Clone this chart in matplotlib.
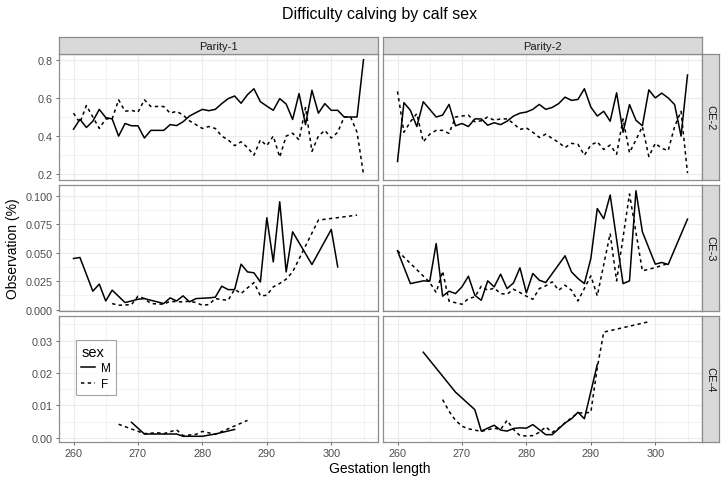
"""
Difficulty calving by calf sex: faceted line chart (CE grade x parity),
drawn in the style of ggplot2 theme_bw with free y scales per row.
Output: out.png
"""
import matplotlib
matplotlib.use("Agg")
import matplotlib.pyplot as plt
from matplotlib.lines import Line2D

plt.rcParams["font.family"] = ["Liberation Sans", "DejaVu Sans"]

# ---- data ----
DAYS_FULL = [260, 261, 262, 263, 264, 265, 266, 267, 268, 269, 270, 271, 272,
             273, 274, 275, 276, 277, 278, 279, 280, 281, 282, 283, 284, 285,
             286, 287, 288, 289, 290, 291, 292, 293, 294, 295, 296, 297, 298,
             299, 300, 301, 302, 303, 304, 305]

# CE-2, Parity-1
p1_ce2_m = [0.436, 0.488, 0.445, 0.478, 0.54, 0.497, 0.49, 0.40, 0.466, 0.454,
            0.454, 0.39, 0.43, 0.43, 0.43, 0.46, 0.455, 0.475, 0.505, 0.523,
            0.54, 0.533, 0.54, 0.57, 0.596, 0.61, 0.572, 0.617, 0.648, 0.58,
            0.557, 0.535, 0.596, 0.568, 0.487, 0.623, 0.46, 0.64, 0.52, 0.57,
            0.535, 0.535, 0.50, 0.50, 0.50, 0.80]
p1_ce2_f = [0.52, 0.47, 0.56, 0.50, 0.44, 0.49, 0.49, 0.59, 0.53, 0.535,
            0.525, 0.59, 0.555, 0.555, 0.555, 0.52, 0.53, 0.51, 0.48, 0.46,
            0.44, 0.45, 0.44, 0.40, 0.38, 0.35, 0.37, 0.34, 0.30, 0.38,
            0.35, 0.40, 0.29, 0.40, 0.415, 0.38, 0.55, 0.32, 0.40, 0.43,
            0.39, 0.42, 0.50, 0.50, 0.42, 0.20]
# CE-2, Parity-2
p2_ce2_m = [0.267, 0.575, 0.535, 0.45, 0.58, 0.54, 0.50, 0.51, 0.566, 0.454,
            0.466, 0.45, 0.49, 0.49, 0.457, 0.47, 0.46, 0.478, 0.505, 0.52,
            0.526, 0.54, 0.566, 0.54, 0.55, 0.57, 0.604, 0.587, 0.592, 0.648,
            0.552, 0.505, 0.53, 0.478, 0.627, 0.42, 0.565, 0.483, 0.454, 0.642,
            0.60, 0.625, 0.60, 0.565, 0.40, 0.72]
p2_ce2_f = [0.634, 0.42, 0.475, 0.518, 0.37, 0.41, 0.43, 0.43, 0.414, 0.50,
            0.505, 0.51, 0.475, 0.48, 0.50, 0.483, 0.49, 0.49, 0.466, 0.435,
            0.443, 0.42, 0.393, 0.41, 0.388, 0.367, 0.34, 0.362, 0.357, 0.30,
            0.353, 0.37, 0.33, 0.353, 0.305, 0.49, 0.313, 0.38, 0.45, 0.293,
            0.362, 0.336, 0.324, 0.45, 0.53, 0.206]

# CE-3, Parity-1
p1_ce3_m_days = [260, 261, 263, 264, 265, 266, 268, 269, 270, 271, 272, 273,
                 274, 275, 276, 277, 278, 279, 280, 281, 282, 283, 284, 285,
                 286, 287, 288, 289, 290, 291, 292, 293, 294, 297, 300, 301]
p1_ce3_m = [0.045, 0.0459, 0.0162, 0.0224, 0.0076, 0.0171, 0.0062, 0.0076,
            0.0091, 0.0097, 0.0082, 0.0068, 0.0053, 0.0103, 0.0076, 0.0121,
            0.0068, 0.0097, 0.010, 0.0103, 0.0109, 0.0206, 0.0176, 0.0176,
            0.040, 0.0332, 0.0324, 0.0244, 0.0809, 0.042, 0.095, 0.0332,
            0.0685, 0.0397, 0.0706, 0.0376]
p1_ce3_f_days = [266, 267, 269, 270, 271, 272, 274, 275, 276, 277, 278, 279,
                 280, 281, 282, 283, 284, 285, 286, 287, 288, 289, 290, 291,
                 292, 293, 294, 298, 304]
p1_ce3_f = [0.0053, 0.0038, 0.0044, 0.0118, 0.0097, 0.0053, 0.0047, 0.0074,
            0.0068, 0.0068, 0.0074, 0.0062, 0.0038, 0.0044, 0.0097, 0.0088,
            0.0082, 0.0179, 0.0141, 0.0191, 0.0238, 0.0121, 0.0126, 0.020,
            0.023, 0.0268, 0.0332, 0.0788, 0.0832]
# CE-3, Parity-2
p2_ce3_m_days = [260, 262, 264, 265, 266, 267, 268, 269, 270, 271, 272, 273,
                 274, 275, 276, 277, 278, 279, 280, 281, 282, 283, 286, 287,
                 288, 289, 290, 291, 292, 293, 295, 296, 297, 298, 300, 301,
                 302, 305]
p2_ce3_m = [0.0518, 0.0229, 0.0253, 0.025, 0.0582, 0.0118, 0.0162, 0.0141,
            0.020, 0.0294, 0.0126, 0.0082, 0.0253, 0.020, 0.0312, 0.0185,
            0.0235, 0.0368, 0.0147, 0.0318, 0.0259, 0.0238, 0.0474, 0.0332,
            0.0274, 0.0229, 0.045, 0.089, 0.080, 0.1009, 0.0229, 0.0253,
            0.1047, 0.0685, 0.040, 0.0415, 0.0397, 0.0797]
p2_ce3_f_days = [260, 265, 266, 267, 268, 270, 271, 272, 273, 274, 275, 276,
                 277, 278, 279, 280, 281, 282, 283, 284, 285, 286, 287, 288,
                 290, 291, 293, 294, 296, 298, 300, 302]
p2_ce3_f = [0.0518, 0.024, 0.015, 0.0338, 0.0074, 0.0047, 0.0097, 0.0112,
            0.0206, 0.017, 0.019, 0.0141, 0.0135, 0.0179, 0.015, 0.0118,
            0.0091, 0.0185, 0.0209, 0.0244, 0.017, 0.0215, 0.017, 0.0076,
            0.0297, 0.0121, 0.067, 0.0253, 0.1018, 0.0341, 0.037, 0.0406]

# CE-4, Parity-1
p1_ce4_m_days = [269, 271, 276, 277, 280, 282, 285]
p1_ce4_m = [0.0048, 0.0012, 0.0012, 0.0005, 0.0005, 0.0012, 0.0026]
p1_ce4_f_days = [267, 271, 273, 274, 276, 277, 279, 280, 282, 287]
p1_ce4_f = [0.0042, 0.0013, 0.0016, 0.0013, 0.0025, 0.0007, 0.0011, 0.002,
            0.0011, 0.0054]
# CE-4, Parity-2
p2_ce4_m_days = [264, 269, 272, 273, 275, 276, 277, 278, 279, 280, 281, 283,
                 284, 286, 287, 288, 289, 291]
p2_ce4_m = [0.0264, 0.0141, 0.0087, 0.0021, 0.0039, 0.0024, 0.0021, 0.0029,
            0.0031, 0.003, 0.0041, 0.001, 0.001, 0.0046, 0.0059, 0.0079,
            0.0059, 0.0226]
p2_ce4_f_days = [267, 268, 269, 270, 271, 272, 273, 275, 276, 277, 278, 279,
                 280, 281, 282, 283, 284, 285, 286, 287, 288, 289, 290, 291,
                 292, 299]
p2_ce4_f = [0.0118, 0.0082, 0.0054, 0.0036, 0.0028, 0.0024, 0.002, 0.003,
            0.0026, 0.0054, 0.0026, 0.0007, 0.0006, 0.0007, 0.0017, 0.0034,
            0.0017, 0.003, 0.0046, 0.0062, 0.0077, 0.0077, 0.0079, 0.0216,
            0.0326, 0.0358]

COL_LABELS = ["Parity-1", "Parity-2"]
ROW_LABELS = ["CE-2", "CE-3", "CE-4"]
ROW_TICKS = [[0.2, 0.4, 0.6, 0.8],
             [0.000, 0.025, 0.050, 0.075, 0.100],
             [0.00, 0.01, 0.02, 0.03]]
ROW_FMT = ["{:.1f}", "{:.3f}", "{:.2f}"]
X_TICKS = [260, 270, 280, 290, 300]
SEX_LABELS = ["M", "F"]

# facets[row][col] = ((m_days, m_vals), (f_days, f_vals))
facets = [
    [((DAYS_FULL, p1_ce2_m), (DAYS_FULL, p1_ce2_f)),
     ((DAYS_FULL, p2_ce2_m), (DAYS_FULL, p2_ce2_f))],
    [((p1_ce3_m_days, p1_ce3_m), (p1_ce3_f_days, p1_ce3_f)),
     ((p2_ce3_m_days, p2_ce3_m), (p2_ce3_f_days, p2_ce3_f))],
    [((p1_ce4_m_days, p1_ce4_m), (p1_ce4_f_days, p1_ce4_f)),
     ((p2_ce4_m_days, p2_ce4_m), (p2_ce4_f_days, p2_ce4_f))],
]

W, H = 726, 485
GRID = "#ebebeb"
BORDER = "#8c8c8c"
TICKCOL = "#4d4d4d"
DASH = (0, (2.2, 2.2))

fig = plt.figure(figsize=(W / 100, H / 100), dpi=100)


def px(x0, y0, x1, y1):
    # pixel box (top-left origin) -> figure fraction rect
    return [x0 / W, 1 - y1 / H, (x1 - x0) / W, (y1 - y0) / H]


def expand(vals):
    lo, hi = min(vals), max(vals)
    pad = (hi - lo) * 0.05
    return lo - pad, hi + pad


all_x = [d for row in facets for cell in row for s in cell for d in s[0]]
xlim = expand(all_x)

col_x = [(59, 378), (383, 702)]
row_y = [(55, 181), (186, 312), (317, 443)]

axes = {}
for r, (y0, y1) in enumerate(row_y):
    yvals = [v for cell in facets[r] for s in cell for v in s[1]]
    ylim = expand(yvals)
    ticks = ROW_TICKS[r]
    step = ticks[1] - ticks[0]
    minor_y = [ticks[0] - step / 2] + \
              [(a + b) / 2 for a, b in zip(ticks[:-1], ticks[1:])] + \
              [ticks[-1] + step / 2]
    for c, (x0, x1) in enumerate(col_x):
        ax = fig.add_axes(px(x0, y0, x1, y1))
        axes[(r, c)] = ax
        ax.set_xlim(*xlim)
        ax.set_ylim(*ylim)
        # grid
        for t in X_TICKS:
            ax.axvline(t, color=GRID, lw=0.8, zorder=0)
        for t in [255, 265, 275, 285, 295, 305]:
            ax.axvline(t, color=GRID, lw=0.45, zorder=0)
        for t in ticks:
            ax.axhline(t, color=GRID, lw=0.8, zorder=0)
        for t in minor_y:
            ax.axhline(t, color=GRID, lw=0.45, zorder=0)
        (md, mv), (fd, fv) = facets[r][c]
        ax.plot(md, mv, color="black", lw=1.1, zorder=3)
        ax.plot(fd, fv, color="black", lw=1.1, ls=DASH, zorder=3)

        ax.set_xticks(X_TICKS)
        ax.set_yticks(ticks)
        ax.tick_params(length=2.5, width=0.6, color=TICKCOL,
                       labelsize=7.8, labelcolor=TICKCOL, pad=2)
        if c == 0:
            ax.set_yticklabels([ROW_FMT[r].format(t) for t in ticks])
        else:
            ax.tick_params(axis="y", left=False, labelleft=False)
        if r == 2:
            ax.set_xticklabels([str(t) for t in X_TICKS])
        else:
            ax.tick_params(axis="x", bottom=False, labelbottom=False)
        for s in ax.spines.values():
            s.set_color(BORDER)
            s.set_linewidth(0.9)

# column strips
for c, (x0, x1) in enumerate(col_x):
    sax = fig.add_axes(px(x0, 38, x1, 55))
    sax.set_xticks([]); sax.set_yticks([])
    sax.set_facecolor("#d9d9d9")
    for s in sax.spines.values():
        s.set_color(BORDER); s.set_linewidth(0.9)
    sax.text(0.5, 0.5, COL_LABELS[c], ha="center", va="center",
             fontsize=8, color="#1a1a1a", transform=sax.transAxes)

# row strips
for r, (y0, y1) in enumerate(row_y):
    sax = fig.add_axes(px(702, y0, 719, y1))
    sax.set_xticks([]); sax.set_yticks([])
    sax.set_facecolor("#d9d9d9")
    for s in sax.spines.values():
        s.set_color(BORDER); s.set_linewidth(0.9)
    sax.text(0.5, 0.5, ROW_LABELS[r], ha="center", va="center", rotation=-90,
             fontsize=8, color="#1a1a1a", transform=sax.transAxes)

# titles
fig.text(380 / W, 1 - 15 / H, "Difficulty calving by calf sex", ha="center",
         va="center", fontsize=11.5)
fig.text(380 / W, 1 - 469 / H, "Gestation length", ha="center", va="center",
         fontsize=10)
fig.text(13 / W, 1 - 249 / H, "Observation (%)", ha="center", va="center",
         rotation=90, fontsize=10)

# legend inside bottom-left panel
handles = [Line2D([], [], color="black", lw=1.1),
           Line2D([], [], color="black", lw=1.1, ls=DASH)]
leg = axes[(2, 0)].legend(handles, SEX_LABELS, title="sex",
                          loc="upper left", bbox_to_anchor=(0.036, 0.855),
                          fontsize=8.5, title_fontsize=10.5, frameon=True,
                          fancybox=False, handlelength=1.2, handletextpad=0.5,
                          labelspacing=0.3, borderpad=0.4)
leg.get_frame().set_edgecolor(BORDER)
leg.get_frame().set_linewidth(0.8)
leg._legend_box.align = "left"

fig.savefig("out.png", dpi=100, facecolor="white")
